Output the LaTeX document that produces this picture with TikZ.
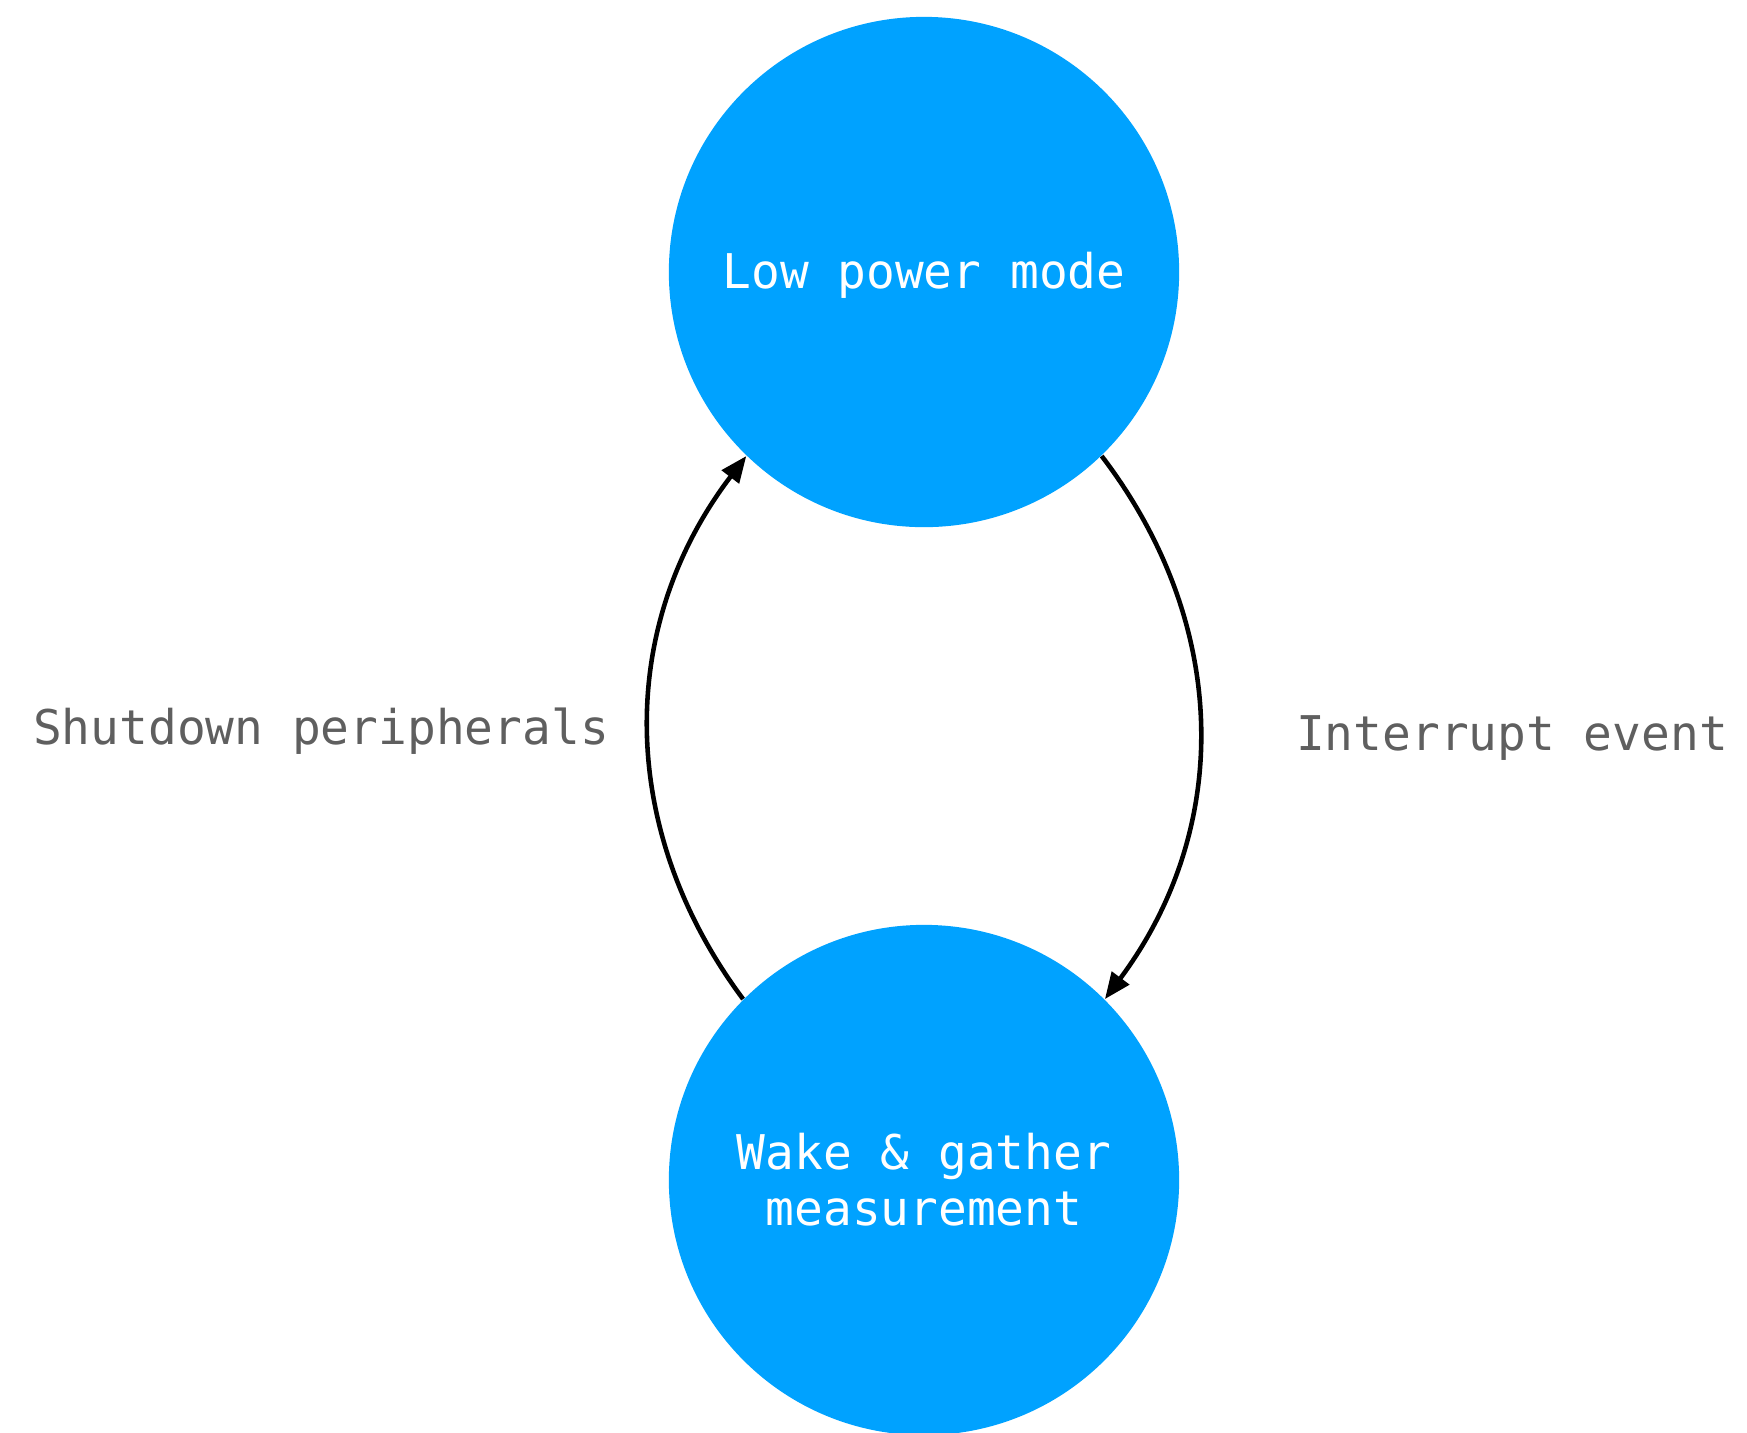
\documentclass[tikz,border=0pt]{standalone}
\usepackage{fontspec}
\setmonofont{DejaVu Sans Mono}
\usetikzlibrary{arrows.meta}
\definecolor{stateblue}{RGB}{0,162,255}
\definecolor{labelgray}{RGB}{95,95,95}

\begin{document}
\begin{tikzpicture}[x=0.01cm, y=-0.01cm,
    state/.style={circle, fill=stateblue, draw=none, minimum size=5.1cm, inner sep=0pt,
        text=white, align=center, font=\ttfamily\fontsize{13.6}{16}\selectfont},
    translabel/.style={text=labelgray, font=\ttfamily\fontsize{13.6}{16}\selectfont},
    trans/.style={line width=1.3pt, -{Triangle[length=7.5pt, width=6pt]}}]
    \useasboundingbox (0,0) rectangle (1747,1432);
    \clip (0,0) rectangle (1747,1432);
    \node[state] (low) at (924, 272) {\raisebox{-4.6pt}[0pt][0pt]{Low power mode}};
    \node[state] (wake) at (924, 1180) {Wake \& gather\\measurement};
    \draw[trans] (wake.135) to[bend left=37] (low.226);
    \draw[trans] (low.314) to[bend left=37] (wake.45);
    \node[translabel] (shutdown) at (321, 731) {Shutdown peripherals};
    \node[translabel] (interrupt) at (1512, 738) {Interrupt event};
\end{tikzpicture}
\end{document}
